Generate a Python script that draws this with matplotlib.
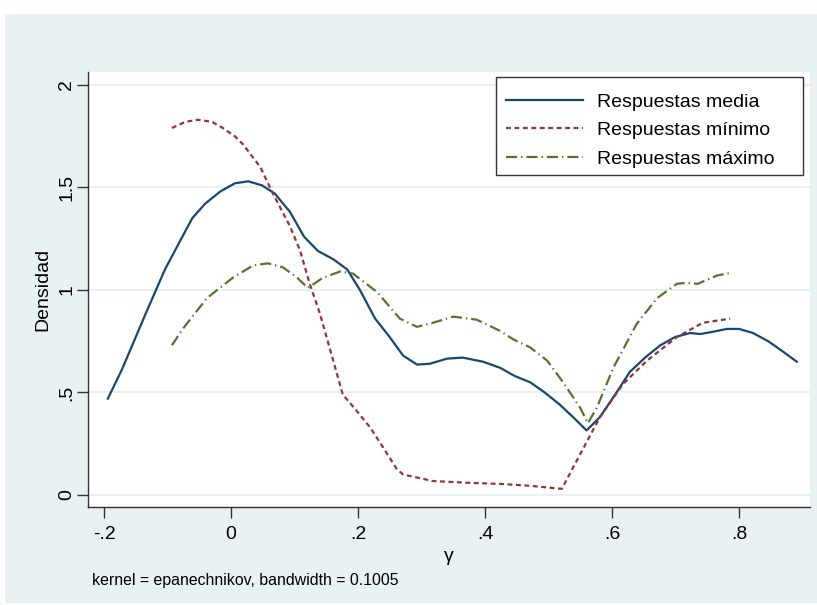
import matplotlib
matplotlib.use('Agg')
import matplotlib.pyplot as plt
from matplotlib.patches import Rectangle

plt.rcParams['font.family'] = ['Liberation Sans', 'DejaVu Sans']

# Respuestas media
x_media = [-0.194, -0.172, -0.135, -0.104, -0.080, -0.061, -0.041, -0.017, 0.006, 0.027,
           0.049, 0.069, 0.093, 0.115, 0.137, 0.161, 0.183, 0.203, 0.227, 0.250,
           0.271, 0.293, 0.313, 0.340, 0.365, 0.397, 0.424, 0.447, 0.471, 0.494,
           0.518, 0.542, 0.560, 0.581, 0.605, 0.628, 0.652, 0.676, 0.699, 0.723,
           0.739, 0.757, 0.781, 0.800, 0.822, 0.846, 0.869, 0.891]
y_media = [0.47, 0.61, 0.88, 1.10, 1.24, 1.35, 1.42, 1.48, 1.52, 1.53,
           1.51, 1.47, 1.38, 1.26, 1.19, 1.15, 1.10, 1.00, 0.86, 0.77,
           0.68, 0.636, 0.64, 0.665, 0.67, 0.65, 0.62, 0.58, 0.55, 0.50,
           0.44, 0.37, 0.315, 0.38, 0.49, 0.60, 0.67, 0.73, 0.77, 0.79,
           0.785, 0.795, 0.81, 0.81, 0.79, 0.75, 0.70, 0.65]

# Respuestas minimo
x_min = [-0.093, -0.072, -0.052, -0.030, -0.013, 0.006, 0.019, 0.046, 0.066, 0.093,
         0.109, 0.124, 0.140, 0.161, 0.176, 0.198, 0.219, 0.240, 0.261, 0.271,
         0.318, 0.371, 0.424, 0.471, 0.521, 0.550, 0.581, 0.617, 0.655, 0.702,
         0.743, 0.786]
y_min = [1.79, 1.82, 1.83, 1.82, 1.79, 1.75, 1.71, 1.60, 1.47, 1.31,
         1.19, 1.03, 0.885, 0.655, 0.49, 0.41, 0.33, 0.23, 0.127, 0.10,
         0.068, 0.06, 0.054, 0.045, 0.03, 0.20, 0.38, 0.54, 0.655, 0.77,
         0.84, 0.86]

# Respuestas maximo
x_max = [-0.093, -0.076, -0.038, 0.003, 0.035, 0.058, 0.082, 0.104, 0.121, 0.145,
         0.172, 0.192, 0.230, 0.266, 0.293, 0.318, 0.350, 0.387, 0.424, 0.444,
         0.471, 0.498, 0.523, 0.550, 0.562, 0.576, 0.602, 0.639, 0.671, 0.702,
         0.718, 0.735, 0.765, 0.789]
y_max = [0.73, 0.81, 0.96, 1.06, 1.12, 1.13, 1.11, 1.06, 1.01, 1.06,
         1.09, 1.08, 0.99, 0.86, 0.82, 0.84, 0.87, 0.855, 0.80, 0.76,
         0.72, 0.655, 0.55, 0.425, 0.35, 0.425, 0.62, 0.835, 0.96, 1.03,
         1.035, 1.03, 1.07, 1.085]

xticks = [-0.2, 0, 0.2, 0.4, 0.6, 0.8]
xticklabels = ['-.2', '0', '.2', '.4', '.6', '.8']
yticks = [0, 0.5, 1, 1.5, 2]
yticklabels = ['0', '.5', '1', '1.5', '2']

bg = '#eaf1f4'
grid_col = '#e3edf1'
W, H = 817, 605

fig = plt.figure(figsize=(8.17, 6.05), dpi=100, facecolor='white')
# graph region (light bluish background)
fig.patches.append(Rectangle((5 / W, 1 - 603 / H), 812 / W, 589 / H,
                             transform=fig.transFigure, facecolor=bg,
                             edgecolor='none', zorder=-10))

ax = fig.add_axes([88 / W, 1 - 507 / H, 722 / W, 435 / H])
ax.set_facecolor('white')

ax.plot(x_media, y_media, color='#1a476f', lw=1.6, label='Respuestas media')
ax.plot(x_min, y_min, color='#90353b', lw=1.6, dashes=(2.2, 1.6),
        label='Respuestas mínimo')
ax.plot(x_max, y_max, color='#55752f', lw=1.6, dashes=(5, 1.8, 0.6, 1.8),
        label='Respuestas máximo')

ax.set_xlim(-0.2252, 0.9118)
ax.set_ylim(-0.0585, 2.063)
ax.set_xticks(xticks)
ax.set_xticklabels(xticklabels)
ax.set_yticks(yticks)
ax.set_yticklabels(yticklabels, rotation=90, va='center')
ax.tick_params(axis='both', labelsize=14, length=8, width=1, color='#333333',
               direction='out')
ax.tick_params(axis='x', pad=6)
ax.tick_params(axis='y', pad=1)
ax.grid(axis='y', color=grid_col, lw=1.2)
ax.set_axisbelow(True)
for s in ['top', 'right']:
    ax.spines[s].set_visible(False)
for s in ['left', 'bottom']:
    ax.spines[s].set_color('#333333')
    ax.spines[s].set_linewidth(1)

ax.set_xlabel('γ', fontsize=14, labelpad=3)
ax.set_ylabel('Densidad', fontsize=14, labelpad=5)

# legend box drawn separately, legend entries on top without own frame
ax.add_patch(Rectangle((496 / W, 1 - 175 / H), 307 / W, 98 / H,
                       transform=fig.transFigure, facecolor='white',
                       edgecolor='#333333', lw=1, zorder=4, clip_on=False))
leg = ax.legend(loc='upper left', bbox_to_anchor=(506 / W, 1 - 93 / H),
                bbox_transform=fig.transFigure, fontsize=14, frameon=False,
                handlelength=3.95, handletextpad=0.72, borderpad=0,
                borderaxespad=0, labelspacing=0.56)
leg.set_zorder(6)

fig.text(92 / W, 1 - 581 / H, 'kernel = epanechnikov, bandwidth = 0.1005',
         fontsize=11.4, va='center', ha='left')

plt.savefig('out.png', dpi=100)
